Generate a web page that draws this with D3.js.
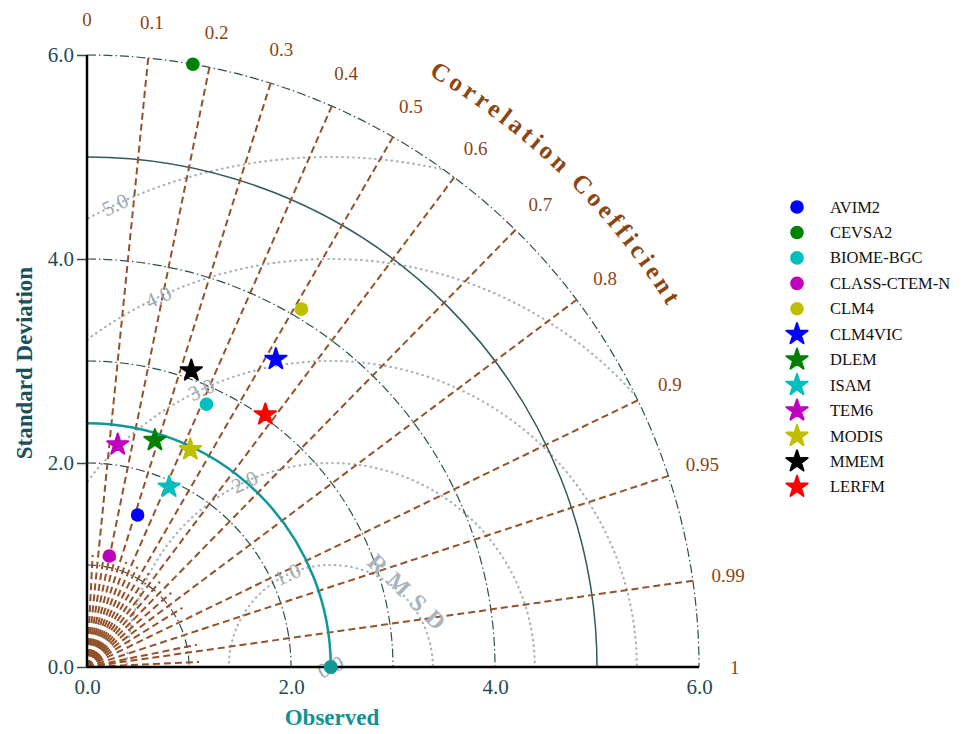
<!DOCTYPE html>
<html>
<head>
<meta charset="utf-8">
<script src="https://cdn.jsdelivr.net/npm/d3@7"></script>
<style>
  body { margin: 0; background: #fff; }
  svg { font-family: "Liberation Serif", "Times New Roman", serif; }
</style>
</head>
<body>
<div id="chart"></div>
<script>
// Taylor diagram data
var models = ["AVIM2", "CEVSA2", "BIOME-BGC", "CLASS-CTEM-N", "CLM4", "CLM4VIC",
              "DLEM", "ISAM", "TEM6", "MODIS", "MMEM", "LERFM"];
var stdDev   = [1.57, 6.00, 2.83, 1.11, 4.09, 3.54, 2.32, 1.94, 2.20, 2.36, 3.08, 3.03];
var corrCoef = [0.316, 0.173, 0.414, 0.197, 0.514, 0.523, 0.287, 0.415, 0.137, 0.429, 0.332, 0.577];
var markerType = ["circle", "circle", "circle", "circle", "circle",
                  "star", "star", "star", "star", "star", "star", "star"];
var markerColors = ["#0000ff", "#008000", "#00bfbf", "#bf00bf", "#bfbf00",
                    "#0000ff", "#008000", "#00bfbf", "#bf00bf", "#bfbf00", "#000000", "#ff0000"];

var observedStd = 2.39;
var stdTicks = [0, 2, 4, 6];
var stdArcs = [1, 2, 3, 4, 5, 6];
var rmsdTicks = [0, 1, 2, 3, 4, 5];
var corrTicks = [0, 0.1, 0.2, 0.3, 0.4, 0.5, 0.6, 0.7, 0.8, 0.9, 0.95, 0.99, 1];
var corrMinor = [0.05, 0.15, 0.25, 0.35, 0.45, 0.55, 0.65, 0.75, 0.85, 0.98, 0.999];

var width = 962, height = 734;
var cx = 87, cy = 667;       // origin in pixels
var stdMax = 6;

var svg = d3.select("#chart").append("svg")
    .attr("width", width)
    .attr("height", height);

var r = d3.scaleLinear().domain([0, stdMax]).range([0, 612]);
var xScale = d3.scaleLinear().domain([0, stdMax]).range([cx, cx + r(stdMax)]);
var yScale = d3.scaleLinear().domain([0, stdMax]).range([cy, cy - r(stdMax)]);

// polar (std, corr) -> pixel
function px(s, c) { return xScale(s * c); }
function py(s, c) { return yScale(s * Math.sqrt(1 - c * c)); }

var brown = "#8b4513";
var lineBrown = "#93522a";
var slate = "#2f4f4f";
var teal = "#0e9494";
var grey = "#9ea8b0";

function quarterArc(rad) {
    var p = d3.path();
    p.arc(cx, cy, rad, -Math.PI / 2, 0, false);
    return p.toString();
}

// clip region for RMSD circles
svg.append("clipPath").attr("id", "quarter")
  .append("path")
    .attr("d", function () {
        var p = d3.path();
        p.moveTo(cx, cy);
        p.arc(cx, cy, r(stdMax), -Math.PI / 2, 0, false);
        p.closePath();
        return p.toString();
    });

// RMSD circles (dotted grey)
var obsX = xScale(observedStd);
svg.append("g").attr("clip-path", "url(#quarter)")
  .selectAll("circle")
  .data(rmsdTicks.filter(function (d) { return d > 0; }))
  .enter().append("circle")
    .attr("cx", obsX)
    .attr("cy", cy)
    .attr("r", function (d) { return r(d); })
    .style("fill", "none")
    .style("stroke", "#a7b0b8")
    .style("stroke-width", 2.2)
    .style("stroke-linecap", "round")
    .style("stroke-dasharray", "0.5,5");

// standard deviation arcs
svg.append("g").selectAll("path")
  .data(stdArcs)
  .enter().append("path")
    .attr("d", function (d) { return quarterArc(r(d)); })
    .style("fill", "none")
    .style("stroke", function (d) { return d === 5 ? "#2f5a5c" : slate; })
    .style("stroke-width", function (d) { return d === 5 ? 1.5 : 1.2; })
    .style("stroke-dasharray", function (d) { return d === 5 ? null : "9,3,1.5,3"; });

// minor correlation rays near origin
svg.append("g").selectAll("line")
  .data(corrMinor)
  .enter().append("line")
    .attr("x1", cx).attr("y1", cy)
    .attr("x2", function (d) { return px(1.1, d); })
    .attr("y2", function (d) { return py(1.1, d); })
    .style("stroke", lineBrown)
    .style("stroke-width", 2)
    .style("stroke-dasharray", "7,4");

// correlation rays
svg.append("g").selectAll("line")
  .data(corrTicks.filter(function (d) { return d > 0 && d < 1; }))
  .enter().append("line")
    .attr("x1", cx).attr("y1", cy)
    .attr("x2", function (d) { return px(stdMax, d); })
    .attr("y2", function (d) { return py(stdMax, d); })
    .style("stroke", lineBrown)
    .style("stroke-width", 2)
    .style("stroke-dasharray", "7,4");

// observed arc
svg.append("path")
    .attr("d", quarterArc(r(observedStd)))
    .style("fill", "none")
    .style("stroke", "#109898")
    .style("stroke-width", 2.5);

// RMSD labels
var rmsdAngle = 115 * Math.PI / 180;
svg.append("g").selectAll("text")
  .data(rmsdTicks)
  .enter().append("text")
    .attr("transform", function (d) {
        var x = obsX + r(d) * Math.cos(rmsdAngle);
        var y = cy - r(d) * Math.sin(rmsdAngle);
        return "translate(" + x + "," + y + ") rotate(-25)";
    })
    .attr("text-anchor", "middle")
    .attr("dominant-baseline", "central")
    .style("fill", grey)
    .style("font-size", "21px")
    .text(function (d) { return d3.format(".1f")(d); });

svg.append("text")
    .attr("transform", "translate(410,595) rotate(44)")
    .attr("text-anchor", "middle")
    .attr("dominant-baseline", "central")
    .style("fill", "#a9b4bc")
    .style("font-size", "24px")
    .style("font-weight", "bold")
    .style("letter-spacing", "9px")
    .text("RMSD");

// axes
var yAxis = d3.axisLeft(yScale).tickValues(stdTicks).tickSize(10).tickFormat(d3.format(".1f"));
var gy = svg.append("g").attr("transform", "translate(" + cx + ",0)").call(yAxis);
gy.select(".domain").remove();
gy.selectAll(".tick line").style("stroke", slate).style("stroke-width", 1.5);
gy.selectAll(".tick text")
    .attr("x", -13)
    .style("font-family", "Liberation Serif, serif")
    .style("font-size", "21px")
    .style("fill", "#1f4b55");

var xAxis = d3.axisBottom(xScale).tickValues(stdTicks).tickSize(0).tickFormat(d3.format(".1f"));
var gx = svg.append("g").attr("transform", "translate(0," + cy + ")").call(xAxis);
gx.select(".domain").remove();
gx.selectAll(".tick text")
    .attr("y", 12)
    .style("font-family", "Liberation Serif, serif")
    .style("font-size", "21px")
    .style("fill", "#1f4b55");

svg.append("line")
    .attr("x1", cx).attr("y1", yScale(0)).attr("x2", cx).attr("y2", yScale(stdMax))
    .style("stroke", "#000").style("stroke-width", 2.5);
svg.append("line")
    .attr("x1", cx).attr("y1", cy).attr("x2", xScale(stdMax)).attr("y2", cy)
    .style("stroke", "#000").style("stroke-width", 2.5);

svg.append("text")
    .attr("transform", "translate(32,363) rotate(-90)")
    .attr("text-anchor", "middle")
    .style("font-size", "23px")
    .style("font-weight", "bold")
    .style("fill", "#1b4f59")
    .text("Standard Deviation");

svg.append("text")
    .attr("x", 332).attr("y", 725)
    .attr("text-anchor", "middle")
    .style("font-size", "23px")
    .style("font-weight", "bold")
    .style("fill", teal)
    .text("Observed");

// correlation tick labels
svg.append("g").selectAll("text")
  .data(corrTicks)
  .enter().append("text")
    .attr("x", function (d) { return px(6.35, d); })
    .attr("y", function (d) { return py(6.35, d); })
    .attr("text-anchor", "middle")
    .attr("dominant-baseline", "central")
    .style("fill", brown)
    .style("font-size", "19px")
    .text(function (d) { return d; });

// curved title
var titleR = r(6.7);
var a0 = 71 * Math.PI / 180, a1 = 20.6 * Math.PI / 180;
svg.append("path")
    .attr("id", "corrPath")
    .attr("d", "M" + (cx + titleR * Math.cos(a0)) + "," + (cy - titleR * Math.sin(a0)) +
               " A" + titleR + "," + titleR + " 0 0 1 " +
               (cx + titleR * Math.cos(a1)) + "," + (cy - titleR * Math.sin(a1)))
    .style("fill", "none");
svg.append("text")
    .style("font-size", "25px")
    .style("font-weight", "bold")
    .style("fill", brown)
    .style("letter-spacing", "4px")
  .append("textPath")
    .attr("href", "#corrPath")
    .attr("startOffset", "50%")
    .attr("text-anchor", "middle")
    .text("Correlation Coefficient");

// markers
var starSym = d3.symbol().type(d3.symbolStar).size(140);

function drawMarker(sel, type, color) {
    if (type === "circle") {
        sel.append("circle").attr("r", 6.8).style("fill", color);
    } else {
        sel.append("path").attr("d", starSym)
            .style("fill", color)
            .style("stroke", color)
            .style("stroke-width", 2)
            .style("stroke-linejoin", "round");
    }
}

var points = svg.append("g").selectAll("g")
  .data(models)
  .enter().append("g")
    .attr("transform", function (d, i) {
        return "translate(" + px(stdDev[i], corrCoef[i]) + "," + py(stdDev[i], corrCoef[i]) + ")";
    });
points.each(function (d, i) { drawMarker(d3.select(this), markerType[i], markerColors[i]); });

// observed point
svg.append("circle")
    .attr("cx", obsX).attr("cy", cy).attr("r", 7)
    .style("fill", "#109898");

// legend
var legend = svg.append("g").selectAll("g")
  .data(models)
  .enter().append("g")
    .attr("transform", function (d, i) { return "translate(797," + (207 + i * 25.45) + ")"; });
legend.each(function (d, i) { drawMarker(d3.select(this), markerType[i], markerColors[i]); });
legend.append("text")
    .attr("x", 33)
    .attr("dominant-baseline", "central")
    .style("font-size", "16.5px")
    .style("fill", "#111")
    .text(function (d) { return d; });
</script>
</body>
</html>
